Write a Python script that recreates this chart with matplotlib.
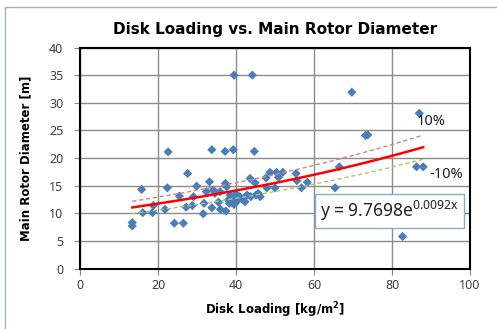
import numpy as np
import matplotlib.pyplot as plt
from matplotlib.patches import Rectangle

plt.rcParams['font.family'] = ['Noto Sans', 'DejaVu Sans']
bold_font = ['DejaVu Sans']

# disk loading [kg/m2] and main rotor diameter [m]
disk_loading = [13.4, 13.4, 15.8, 16.1, 18.6, 18.8, 21.8, 22.4, 22.6, 24.2,
                26.5, 25.5, 27.6, 27.2, 28.8, 29.1, 29.9, 31.6, 31.8, 32.4,
                33.2, 33.8, 33.8, 34.2, 34.6, 35.5, 35.9, 36.0, 37.2, 37.3,
                37.4, 37.6, 38.0, 38.3, 38.5, 38.8, 39.3, 39.5, 39.0, 39.5,
                40.0, 40.3, 41.0, 41.5, 42.3, 42.8, 43.6, 43.8, 44.2, 44.7,
                44.9, 45.1, 45.7, 46.2, 47.7, 47.9, 48.7, 50.0, 50.4, 50.9,
                52.0, 55.4, 55.6, 56.8, 58.3, 65.4, 66.5, 69.7, 73.2, 73.8,
                82.7, 86.3, 87.0, 88.0]
rotor_diameter = [8.3, 7.7, 14.3, 10.1, 10.1, 11.4, 10.7, 14.6, 21.1, 8.2,
                  8.2, 13.1, 17.2, 11.1, 11.4, 13.0, 14.9, 9.9, 11.8, 13.9,
                  15.7, 21.5, 11.0, 14.2, 13.6, 12.0, 13.9, 10.7, 21.2, 15.4,
                  10.4, 14.8, 12.4, 11.8, 13.3, 12.0, 21.5, 35.0, 12.8, 11.6,
                  13.5, 12.2, 13.0, 12.6, 12.1, 13.3, 16.3, 13.0, 35.0, 21.2,
                  15.5, 13.3, 13.6, 13.0, 16.4, 14.6, 17.4, 14.6, 17.4, 16.5,
                  17.4, 17.2, 15.9, 14.6, 15.6, 14.6, 18.4, 31.9, 24.1, 24.2,
                  5.8, 18.4, 28.1, 18.4]

# exponential trend shown on the chart
fit_a = 9.7698
fit_b = 0.0092
band = 0.10

fig = plt.figure(figsize=(4.97, 3.29), dpi=100)
fig.patches.append(Rectangle((5 / 497, -0.1), 1.1, 1 - 7 / 329 + 0.1,
                             transform=fig.transFigure, fill=False,
                             edgecolor='#9fb4d4', linewidth=1.0))

ax = fig.add_axes([80 / 497, 1 - 268.5 / 329, 390 / 497, 221 / 329])

ax.scatter(disk_loading, rotor_diameter, marker='D', s=22, color='#4a7ebb',
           edgecolors='none', zorder=3)

xs = np.linspace(min(disk_loading), max(disk_loading), 200)
trend = fit_a * np.exp(fit_b * xs)
ax.plot(xs, trend, color='#ff0000', linewidth=1.8, zorder=4)
ax.plot(xs, trend * (1 + band), color='#d98080', linewidth=1.0,
        linestyle=(0, (3, 2)), zorder=4)
ax.plot(xs, trend * (1 - band), color='#a9c86a', linewidth=1.0,
        linestyle=(0, (3, 2)), zorder=4)

ax.text(86.2, 26.0, '10%', fontsize=10.5, color='#222222')
ax.text(89.6, 16.3, '-10%', fontsize=10.5, color='#222222')
ax.text(61.6, 10.4, r'y = 9.7698e$^{\mathregular{0.0092x}}$', fontsize=12.5,
        color='#222222', va='center',
        bbox=dict(boxstyle='square,pad=0.3', facecolor='white',
                  edgecolor='#8fa8cc', linewidth=1.0), zorder=6)

ax.set_xlim(0, 100)
ax.set_ylim(0, 40)
ax.set_xticks(range(0, 101, 20))
ax.set_yticks(range(0, 41, 5))
ax.grid(True, color='#8c8c8c', linewidth=1.0)
ax.set_axisbelow(True)
for side in ax.spines.values():
    side.set_color('#000000')
    side.set_linewidth(1.5)
ax.tick_params(direction='out', length=4, color='#8c8c8c', labelsize=9,
               labelcolor='#404040')
ax.tick_params(axis='y', pad=8)

ax.set_xlabel('Disk Loading [kg/m$^\\mathregular{2}$]', fontsize=8.5,
              fontweight='bold', family=bold_font, labelpad=6)
ax.set_ylabel('Main Rotor Diameter [m]', fontsize=8.5, fontweight='bold',
              family=bold_font, labelpad=12)
ax.set_title('Disk Loading vs. Main Rotor Diameter', fontsize=11,
             fontweight='bold', family=bold_font, pad=10)

fig.savefig('out.png', dpi=100)
